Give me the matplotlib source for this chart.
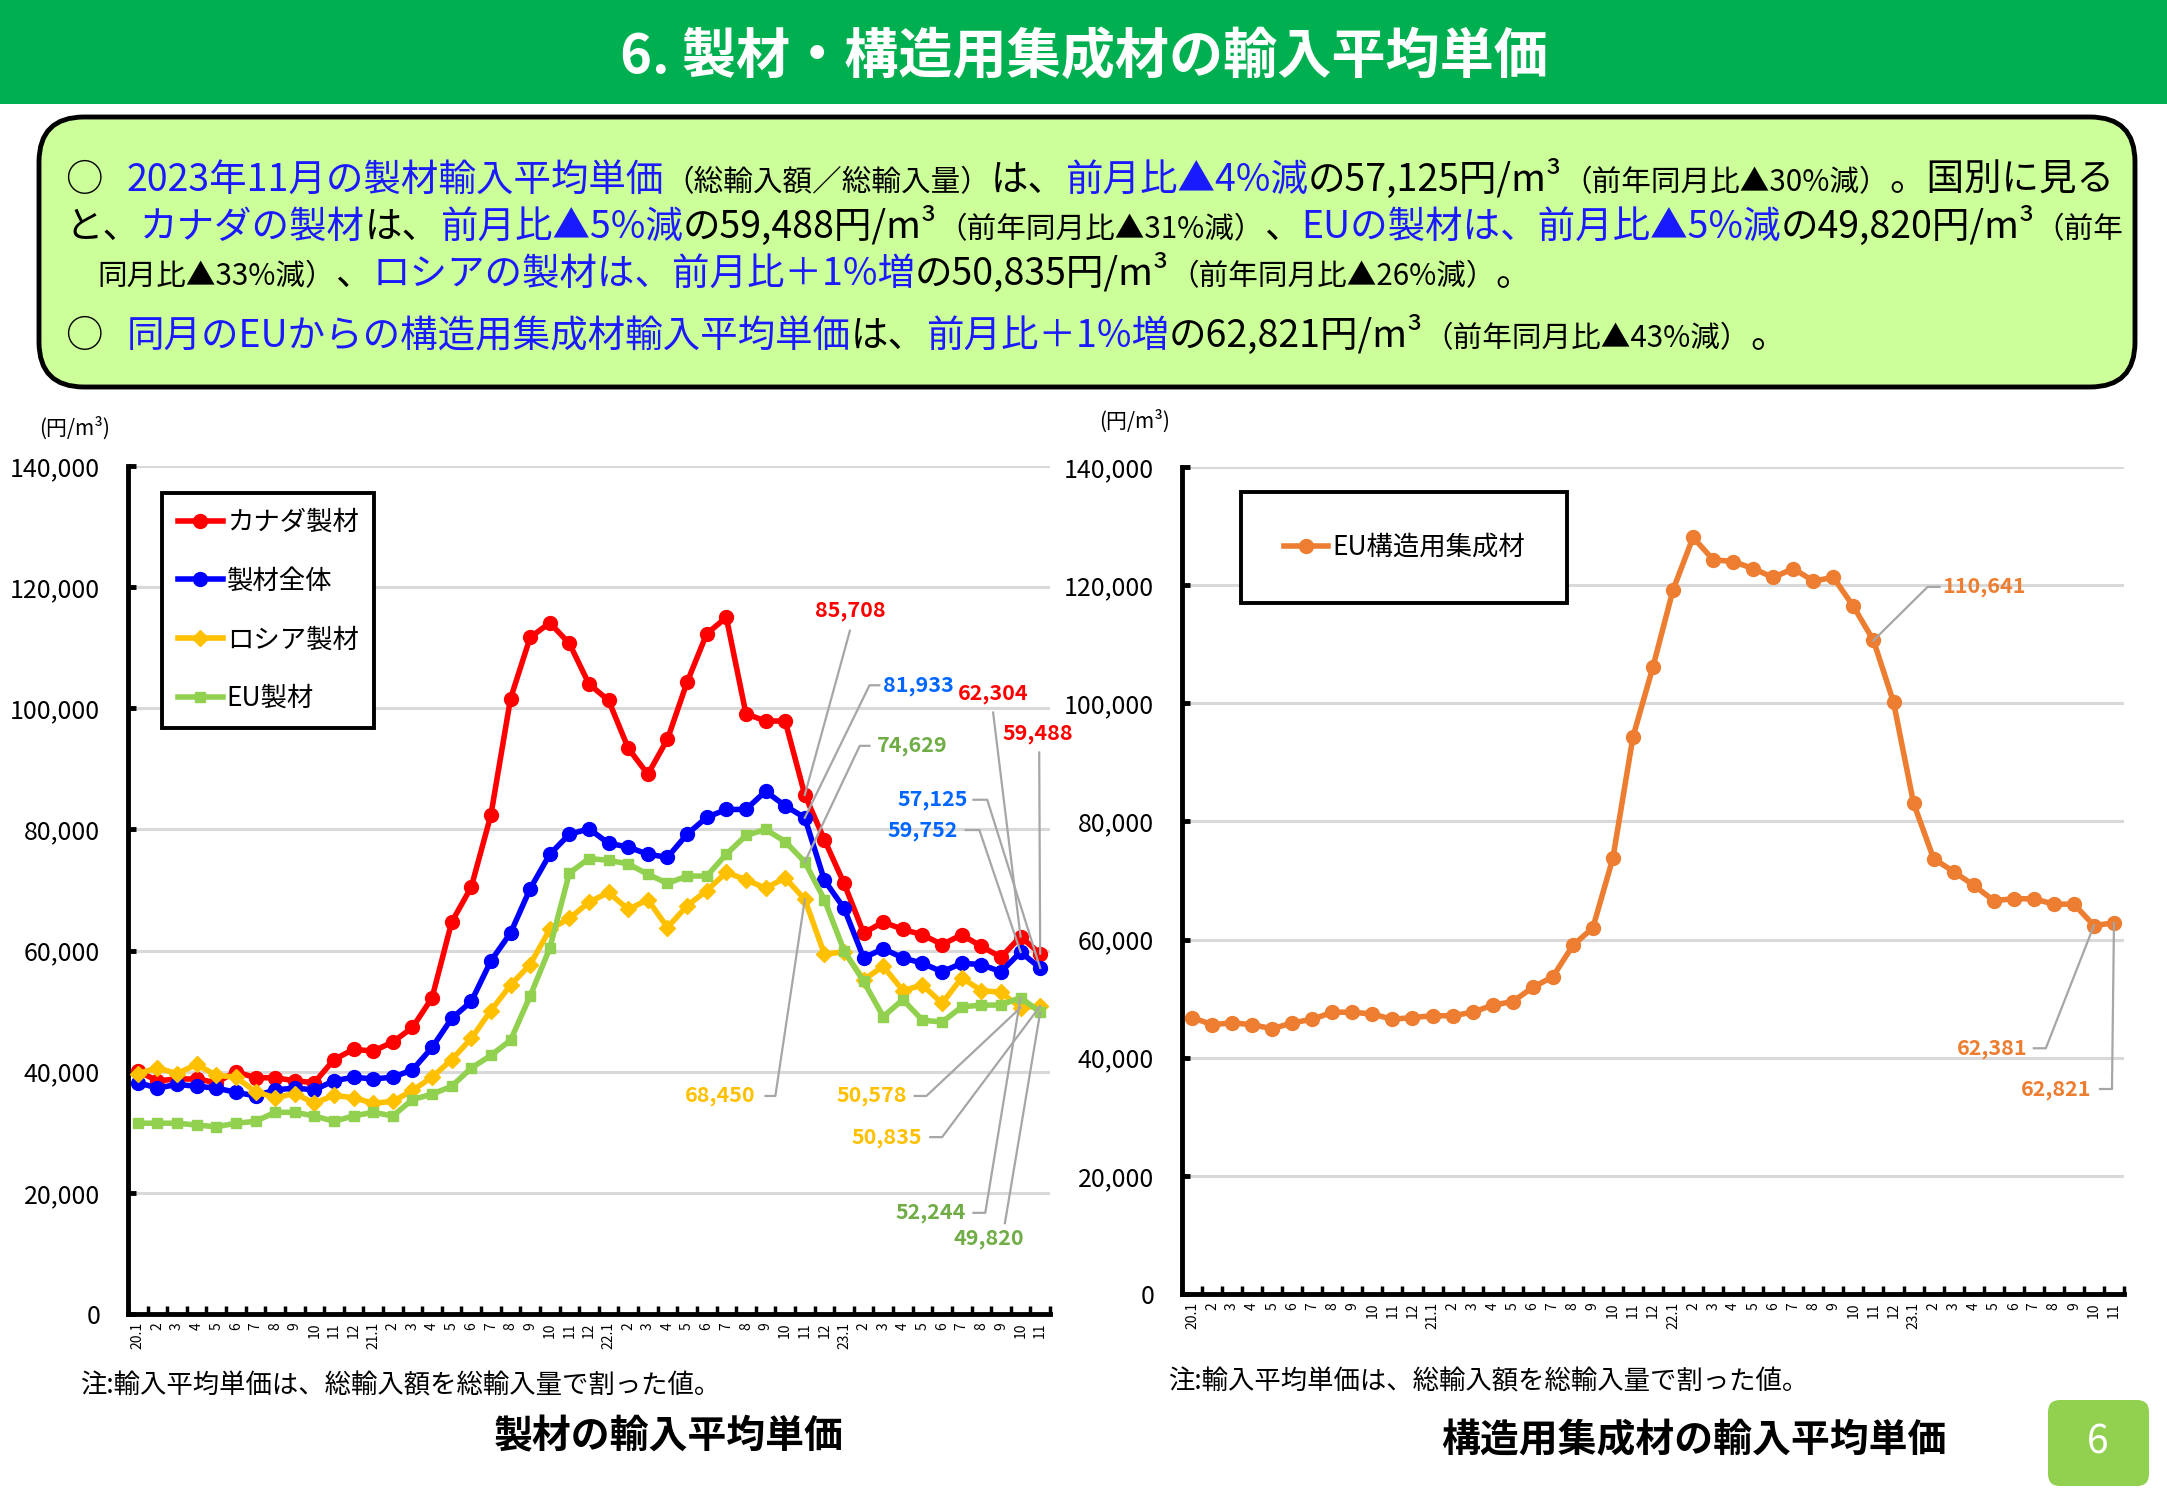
import matplotlib
matplotlib.use('Agg')
import matplotlib.pyplot as plt
from matplotlib.patches import FancyBboxPatch, Rectangle
from matplotlib.transforms import IdentityTransform

plt.rcParams['font.family'] = ['Noto Sans CJK JP', 'DejaVu Sans']

W, H = 2167, 1500

# month labels 2020.1 - 2023.11
months = ['20.1', '2', '3', '4', '5', '6', '7', '8', '9', '10', '11', '12',
          '21.1', '2', '3', '4', '5', '6', '7', '8', '9', '10', '11', '12',
          '22.1', '2', '3', '4', '5', '6', '7', '8', '9', '10', '11', '12',
          '23.1', '2', '3', '4', '5', '6', '7', '8', '9', '10', '11']

# yen / m3
canada = [40100, 38500, 38800, 38800, 38200, 40000, 39000, 39000, 38500, 38200,
          42000, 43700, 43400, 44900, 47300, 52200,
          64700, 70500, 82400, 101600, 111700, 114100, 110700, 104000, 101300,
          93400, 89100, 94900, 104300, 112300, 115000, 99100, 97900, 97900,
          85708, 78300, 71100, 62900, 64700, 63500, 62600, 61000, 62600, 60700,
          58900, 62304, 59488]
total = [38200, 37300, 37900, 37600, 37300, 36600, 36000, 37000, 37300, 37000,
         38500, 39100, 38800, 39100, 40300, 44000,
         48800, 51600, 58300, 62900, 70200, 75900, 79200, 80100, 77700,
         77100, 75900, 75400, 79200, 82000, 83300, 83300, 86300, 83900,
         81933, 71600, 67000, 58800, 60300, 58800, 57900, 56500, 57900, 57700,
         56500, 59752, 57125]
russia = [39700, 40600, 39700, 41200, 39400, 39100, 36700, 35700, 36400, 34800,
          36100, 35700, 34800, 35100, 36900, 39100,
          42000, 45500, 50100, 54300, 57700, 63500, 65300, 68000, 69600,
          66800, 68400, 63800, 67400, 69900, 72900, 71700, 70300, 72000,
          68450, 59400, 59800, 55200, 57400, 53400, 54300, 51300, 55500, 53400,
          53100, 50578, 50835]
eu = [31500, 31500, 31500, 31200, 30900, 31500, 31800, 33300, 33300, 32700,
      31800, 32700, 33300, 32700, 35400, 36300,
      37600, 40600, 42700, 45200, 52500, 60400, 72800, 75200, 74900,
      74300, 72600, 71100, 72300, 72300, 75900, 79000, 80000, 78000,
      74629, 68400, 60000, 54900, 49100, 51900, 48500, 48200, 50700, 51000,
      51000, 52244, 49820]
glulam = [46800, 45600, 45900, 45600, 44900, 45900, 46500, 47700, 47700, 47400,
          46500, 46800, 47100, 47100, 47700, 48900,
          49500, 51900, 53700, 59000, 62000, 73800, 94300, 106200, 119200,
          128100, 124300, 124000, 122800, 121300, 122800, 120700, 121300, 116400,
          110641, 100200, 83100, 73700, 71500, 69200, 66600, 66900, 66900, 66000,
          66000, 62381, 62821]

x = list(range(len(months)))

fig = plt.figure(figsize=(W / 100, H / 100), dpi=100)

# header bar
fig.patches.append(Rectangle((0, 1 - 104 / H), 1, 104 / H, transform=fig.transFigure,
                             facecolor='#00B050', edgecolor='none', zorder=0))
fig.text(0.5, 1 - 57 / H, '6. 製材・構造用集成材の輸入平均単価', color='white',
         fontsize=39, fontweight='bold', ha='center', va='center')

# summary box
fig.patches.append(FancyBboxPatch((39, H - 387), 2096, 270,
                                  boxstyle='round,pad=0,rounding_size=45',
                                  transform=IdentityTransform(), facecolor='#CCFF99',
                                  edgecolor='black', linewidth=3.5, zorder=0))

BLUE = '#1A1AFF'
K = 'black'
BIG, SMALL = 27, 21.3
renderer = fig.canvas.get_renderer()


def rich_line(x0, y_base, parts):
    xp = x0
    for txt, col, size in parts:
        t = fig.text(xp, H - y_base, txt, color=col, fontsize=size, ha='left',
                     va='baseline', transform=IdentityTransform())
        xp = t.get_window_extent(renderer).x1


rich_line(65, 191, [('○', K, BIG)])
rich_line(127, 191, [('2023年11月の製材輸入平均単価', BLUE, BIG),
                     ('（総輸入額／総輸入量）', K, SMALL), ('は、', K, BIG),
                     ('前月比▲4%減', BLUE, BIG), ('の57,125円/m³', K, BIG),
                     ('（前年同月比▲30%減）', K, SMALL), ('。国別に見る', K, BIG)])
rich_line(65, 238, [('と、', K, BIG), ('カナダの製材', BLUE, BIG), ('は、', K, BIG),
                    ('前月比▲5%減', BLUE, BIG), ('の59,488円/m³', K, BIG),
                    ('（前年同月比▲31%減）', K, SMALL), ('、', K, BIG),
                    ('EUの製材は、前月比▲5%減', BLUE, BIG), ('の49,820円/m³', K, BIG),
                    ('（前年', K, SMALL)])
rich_line(97, 285, [('同月比▲33%減）', K, SMALL), ('、', K, BIG),
                    ('ロシアの製材は、前月比＋1%増', BLUE, BIG), ('の50,835円/m³', K, BIG),
                    ('（前年同月比▲26%減）', K, SMALL), ('。', K, BIG)])
rich_line(65, 347, [('○', K, BIG)])
rich_line(127, 347, [('同月のEUからの構造用集成材輸入平均単価', BLUE, BIG), ('は、', K, BIG),
                     ('前月比＋1%増', BLUE, BIG), ('の62,821円/m³', K, BIG),
                     ('（前年同月比▲43%減）', K, SMALL), ('。', K, BIG)])

GRID = '#D9D9D9'
LEAD = '#A6A6A6'


def style_axes(ax):
    ax.set_xlim(-0.5, len(months) - 0.5)
    ax.set_ylim(0, 140000)
    ax.set_yticks(range(0, 140001, 20000))
    ax.set_yticklabels([f'{v:,}' for v in range(0, 140001, 20000)], fontsize=18)
    ax.grid(axis='y', color=GRID, linewidth=2.2, zorder=0)
    ax.set_axisbelow(True)
    for s in ('top', 'right'):
        ax.spines[s].set_visible(False)
    for s in ('left', 'bottom'):
        ax.spines[s].set_linewidth(3.5)
    ax.tick_params(axis='y', direction='in', length=6, width=3.5, pad=20)
    ax.set_xticks(x)
    ax.set_xticklabels(months, rotation=90, fontsize=10, va='top')
    ax.tick_params(axis='x', length=0, pad=6)
    ax.set_xticks([i - 0.5 for i in range(len(months) + 1)], minor=True)
    ax.tick_params(axis='x', which='minor', direction='in', length=6, width=2.5)


def callout(ax, series, i, text, tx, ty, color, path):
    xs = [p[0] for p in path] + [i]
    ys = [p[1] for p in path] + [series[i]]
    ax.plot(xs, ys, color=LEAD, linewidth=1.6, zorder=6, clip_on=False)
    ax.text(tx, ty, text, color=color, fontsize=15.5, fontweight='bold',
            ha='center', va='center', zorder=7)


# ---- left chart: sawn timber
ax1 = fig.add_axes([128 / W, 1 - 1314 / H, 922 / W, 848 / H])
style_axes(ax1)
ax1.plot(x, canada, color='#FF0000', lw=4, marker='o', ms=10, label='カナダ製材',
         zorder=3, clip_on=False)
ax1.plot(x, total, color='#0000FF', lw=4, marker='o', ms=10, label='製材全体',
         zorder=3, clip_on=False)
ax1.plot(x, russia, color='#FFC000', lw=4, marker='D', ms=8, label='ロシア製材',
         zorder=3, clip_on=False)
ax1.plot(x, eu, color='#92D050', lw=4, marker='s', ms=7.5, label='EU製材',
         zorder=3, clip_on=False)
leg = ax1.legend(loc='upper left', bbox_to_anchor=(0.037, 0.968), borderaxespad=0,
                 fontsize=19, handlelength=1.7, handletextpad=0.15, labelspacing=1.2,
                 borderpad=0.6, fancybox=False, framealpha=1, edgecolor='black')
leg.get_frame().set_linewidth(2.8)

callout(ax1, canada, 34, '85,708', 36.3, 116100, '#FF0000', [(36.3, 112800)])
callout(ax1, total, 34, '81,933', 39.8, 103800, '#0066FF',
        [(37.8, 103800), (37.3, 103800)])
callout(ax1, canada, 45, '62,304', 43.6, 102500, '#FF0000', [(43.6, 99300)])
callout(ax1, canada, 46, '59,488', 45.9, 95900, '#FF0000', [(45.95, 92700)])
callout(ax1, eu, 34, '74,629', 39.5, 93800, '#70AD47', [(37.3, 93800), (36.8, 93800)])
callout(ax1, total, 46, '57,125', 40.5, 84900, '#0066FF', [(42.6, 84900), (43.3, 84900)])
callout(ax1, total, 45, '59,752', 40.0, 79900, '#0066FF', [(42.2, 79900), (42.9, 79900)])
callout(ax1, russia, 34, '68,450', 29.7, 36000, '#FFC000', [(32.0, 36000), (32.5, 36000)])
callout(ax1, russia, 45, '50,578', 37.4, 36000, '#FFC000', [(39.6, 36000), (40.2, 36000)])
callout(ax1, russia, 46, '50,835', 38.2, 29200, '#FFC000', [(40.4, 29200), (41.0, 29200)])
callout(ax1, eu, 45, '52,244', 40.4, 16700, '#70AD47', [(42.6, 16700), (43.2, 16700)])
callout(ax1, eu, 46, '49,820', 43.4, 12500, '#70AD47', [(44.2, 15000)])

# ---- right chart: structural glulam
ax2 = fig.add_axes([1182 / W, 1 - 1294 / H, 942 / W, 827 / H])
style_axes(ax2)
ax2.plot(x, glulam, color='#ED7D31', lw=4, marker='o', ms=10, label='EU構造用集成材',
         zorder=3, clip_on=False)
leg2 = ax2.legend(loc='upper left', bbox_to_anchor=(0.063, 0.970), borderaxespad=0,
                  fontsize=19, handlelength=1.7, handletextpad=0.15, borderpad=1.6,
                  fancybox=False, framealpha=1, edgecolor='black')
leg2.get_frame().set_linewidth(2.8)

callout(ax2, glulam, 34, '110,641', 39.5, 119700, '#ED7D31',
        [(37.3, 119700), (36.7, 119700)])
callout(ax2, glulam, 45, '62,381', 39.9, 41600, '#ED7D31', [(42.0, 41600), (42.6, 41600)])
callout(ax2, glulam, 46, '62,821', 43.1, 34700, '#ED7D31', [(45.3, 34700), (45.9, 34700)])

# units, notes, titles
fig.text(39 / W, 1 - 428 / H, '(円/m³)', fontsize=15, ha='left', va='center')
fig.text(1099 / W, 1 - 421 / H, '(円/m³)', fontsize=15, ha='left', va='center')
note = '注:輸入平均単価は、総輸入額を総輸入量で割った値。'
fig.text(80 / W, 1 - 1386 / H, note, fontsize=19, ha='left', va='center')
fig.text(1168 / W, 1 - 1382 / H, note, fontsize=19, ha='left', va='center')
fig.text(669 / W, 1 - 1437 / H, '製材の輸入平均単価', fontsize=28, fontweight='bold',
         ha='center', va='center')
fig.text(1694 / W, 1 - 1441 / H, '構造用集成材の輸入平均単価', fontsize=28,
         fontweight='bold', ha='center', va='center')

# page number
fig.patches.append(FancyBboxPatch((2048, H - 1486), 101, 86,
                                  boxstyle='round,pad=0,rounding_size=12',
                                  transform=IdentityTransform(), facecolor='#92D050',
                                  edgecolor='none', zorder=0))
fig.text(2098 / W, 1 - 1443 / H, '6', color='white', fontsize=28, ha='center', va='center')

fig.savefig('out.png', dpi=100)
